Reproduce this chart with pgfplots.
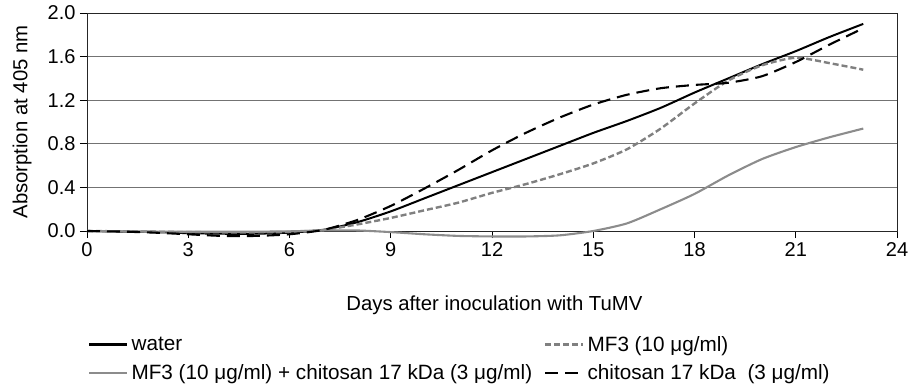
\documentclass[border=0pt]{standalone}
\usepackage{pgfplots}
\pgfplotsset{compat=1.18}
\usepackage{fontspec}
\setmainfont{Liberation Sans}
\definecolor{gridgray}{gray}{0.45}
\definecolor{mfgray}{gray}{0.5}
\definecolor{mcgray}{gray}{0.55}
\begin{document}
\begin{tikzpicture}
\path[use as bounding box] (-87pt,-160pt) rectangle (825pt,231pt);
\begin{axis}[
  scale only axis, width=810pt, height=218pt,
  xmin=0, xmax=24, ymin=0, ymax=2,
  clip=false,
  xtick={0,3,...,24}, ytick={0,0.4,0.8,1.2,1.6,2.0},
  yticklabel style={/pgf/number format/fixed, /pgf/number format/fixed zerofill, /pgf/number format/precision=1, xshift=-1pt},
  /pgf/number format/assume math mode=true,
  tick label style={font=\fontsize{20}{24}\selectfont},
  xticklabel style={yshift=-1pt},
  tick align=outside, major tick length=7pt,
  xtick pos=left, ytick pos=left,
  tick style={black, line width=0.8pt},
  ymajorgrids, grid style={gridgray, line width=0.8pt},
  axis line style={black!85, line width=0.9pt},
  every axis x label/.style={at={(axis description cs:0.503,-0.339)}, anchor=center},
  every axis y label/.style={at={(axis description cs:-0.0802,0.5)}, rotate=90, anchor=center},
  label style={font=\fontsize{20.3}{24}\selectfont},
  xlabel={Days after inoculation with TuMV},
  ylabel={Absorption at 405 nm},
  legend columns=2,
  legend cell align=left,
  legend image code/.code={\draw[#1, line width=2.4pt] (0pt,0pt) -- (38pt,0pt);},
  legend style={at={(axis description cs:0,0)}, anchor=north west, xshift=-2pt, yshift=-101pt,
    draw=none, fill=none, font=\fontsize{20.7}{24}\selectfont, row sep=8pt,
    /tikz/every even column/.append style={column sep=9pt},
    nodes={inner xsep=3pt, inner ysep=2pt}},
]
\addplot[black, line width=2pt, smooth, tension=0.4] coordinates {
(0,0) (1,-0.005) (2,-0.01) (3,-0.02) (4,-0.025) (5,-0.025) (6,-0.015) (7,0.01) (8,0.08) (9,0.18) (10,0.30) (11,0.42) (12,0.54) (13,0.66) (14,0.78) (15,0.90) (16,1.01) (17,1.13) (18,1.27) (19,1.40) (20,1.53) (21,1.65) (22,1.78) (23,1.90)};
\addlegendentry{water}
\addplot[mfgray, line width=2.4pt, dash pattern=on 6pt off 3pt, smooth, tension=0.4] coordinates {
(0,0) (1,-0.003) (2,-0.006) (3,-0.01) (4,-0.012) (5,-0.012) (6,-0.008) (7,0.01) (8,0.06) (9,0.12) (10,0.19) (11,0.26) (12,0.35) (13,0.43) (14,0.52) (15,0.62) (16,0.75) (17,0.94) (18,1.17) (19,1.38) (20,1.52) (21,1.59) (22,1.54) (23,1.48)};
\addlegendentry{MF3 (10 μg/ml)}
\addplot[mcgray, line width=2.1pt, smooth, tension=0.4] coordinates {
(0,0) (1,-0.003) (2,-0.005) (3,-0.007) (4,-0.007) (5,-0.006) (6,-0.003) (7,0.005) (8,0.005) (9,-0.01) (10,-0.03) (11,-0.045) (12,-0.05) (13,-0.05) (14,-0.04) (15,0.0) (16,0.07) (17,0.20) (18,0.34) (19,0.51) (20,0.66) (21,0.77) (22,0.86) (23,0.94)};
\addlegendentry{MF3 (10 μg/ml) + chitosan 17 kDa (3 μg/ml)}
\addplot[black, line width=2.1pt, dash pattern=on 13pt off 7pt, smooth, tension=0.4] coordinates {
(0,0) (1,-0.005) (2,-0.015) (3,-0.03) (4,-0.045) (5,-0.045) (6,-0.03) (7,0.01) (8,0.10) (9,0.23) (10,0.39) (11,0.56) (12,0.74) (13,0.90) (14,1.04) (15,1.16) (16,1.25) (17,1.31) (18,1.34) (19,1.36) (20,1.42) (21,1.55) (22,1.71) (23,1.86)};
\addlegendentry{chitosan 17 kDa\ \ (3 μg/ml)}
\end{axis}
\end{tikzpicture}
\end{document}
